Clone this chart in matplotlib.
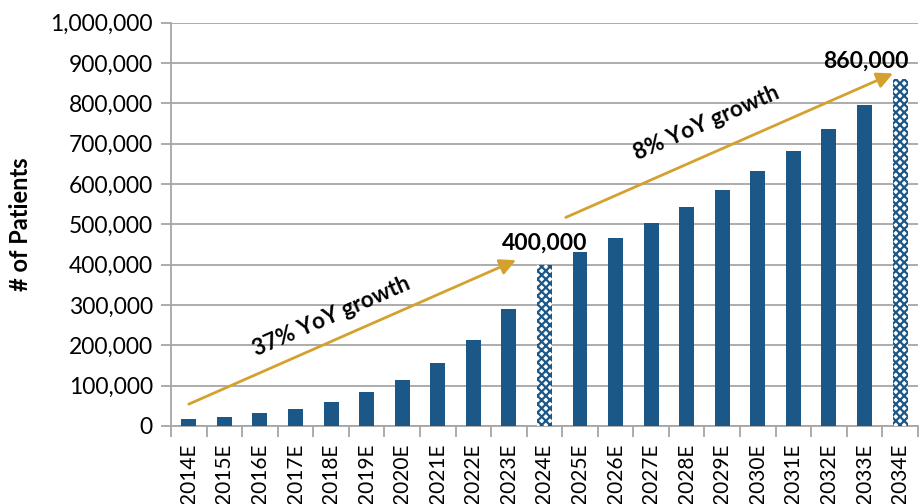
import matplotlib as mpl
mpl.use('Agg')
import matplotlib.pyplot as plt
from matplotlib.ticker import FuncFormatter, FixedLocator
import numpy as np

plt.rcParams['font.family'] = ['Lato', 'DejaVu Sans']
plt.rcParams['hatch.linewidth'] = 1.6

years = ['2014E', '2015E', '2016E', '2017E', '2018E', '2019E', '2020E',
         '2021E', '2022E', '2023E', '2024E', '2025E', '2026E', '2027E',
         '2028E', '2029E', '2030E', '2031E', '2032E', '2033E', '2034E']
patients = [16000, 23000, 32000, 43000, 59000, 83000, 113000,
            155000, 212000, 291000, 400000, 432000, 466000, 503000,
            543000, 586000, 632000, 682000, 737000, 796000, 860000]
highlight = ['2024E', '2034E']
callouts = {'2024E': '400,000', '2034E': '860,000'}

# growth arrows: (x0, y0, x1, y1, label, label_x, label_y)
arrows = [(0.0, 54000, 9.2, 411000, '37% YoY growth', 4.0, 272000),
          (10.6, 517000, 19.8, 874000, '8% YoY growth', 14.55, 752000)]

blue = '#1B5787'
gold = '#D4A12E'
grid = '#a6a6a6'

fig = plt.figure(figsize=(9.22, 5.04), dpi=100)
ax = fig.add_axes([0.1855, 0.155, 0.81, 0.80])

x = np.arange(len(years))
for i, (yr, val) in enumerate(zip(years, patients)):
    if yr in highlight:
        ax.bar(i, val, width=0.42, color='#ffffff', edgecolor=blue,
               hatch='xxxx', linewidth=0, zorder=3)
    else:
        ax.bar(i, val, width=0.42, color=blue, linewidth=0, zorder=3)

ax.set_xlim(-0.5, len(years) - 0.5)
ax.set_ylim(0, 1000000)
ax.yaxis.set_major_locator(FixedLocator(np.arange(0, 1000001, 100000)))
ax.yaxis.set_major_formatter(FuncFormatter(lambda v, p: f'{int(v):,}'))
ax.grid(axis='y', color=grid, linewidth=1.3, zorder=0)

ax.set_xticks(x)
ax.set_xticklabels(years, rotation=90, fontsize=15, va='top')
ax.set_xticks(np.arange(-0.5, len(years), 1), minor=True)
ax.tick_params(axis='x', which='major', length=0, pad=13)
ax.tick_params(axis='x', which='minor', length=8, color=grid, width=1.3)
ax.tick_params(axis='y', length=7, color=grid, width=1.3, labelsize=16.5, pad=6)

for s in ['top', 'right']:
    ax.spines[s].set_visible(False)
for s in ['left', 'bottom']:
    ax.spines[s].set_color(grid)
    ax.spines[s].set_linewidth(1.3)

ax.set_ylabel('# of Patients', fontsize=17, fontweight='bold', va='center')
ax.yaxis.set_label_coords(-0.202, 0.5)

for yr, txt in callouts.items():
    i = years.index(yr)
    if i == len(years) - 1:
        ax.text(i + 0.25, patients[i] + 18000, txt, ha='right', va='bottom',
                fontsize=16.5, fontweight='bold', zorder=5)
    else:
        ax.text(i, patients[i] + 26000, txt, ha='center', va='bottom',
                fontsize=16.5, fontweight='bold', zorder=5)

for x0, y0, x1, y1, label, lx, ly in arrows:
    ax.annotate('', xy=(x1, y1), xytext=(x0, y0),
                arrowprops=dict(arrowstyle='-|>', color=gold, lw=2,
                                mutation_scale=24, shrinkA=0, shrinkB=0),
                zorder=4)
    ax.text(lx, ly, label, rotation=23.6, ha='center', va='center',
            fontsize=16.2, fontweight='bold', zorder=5)

fig.savefig('out.png', dpi=100)
